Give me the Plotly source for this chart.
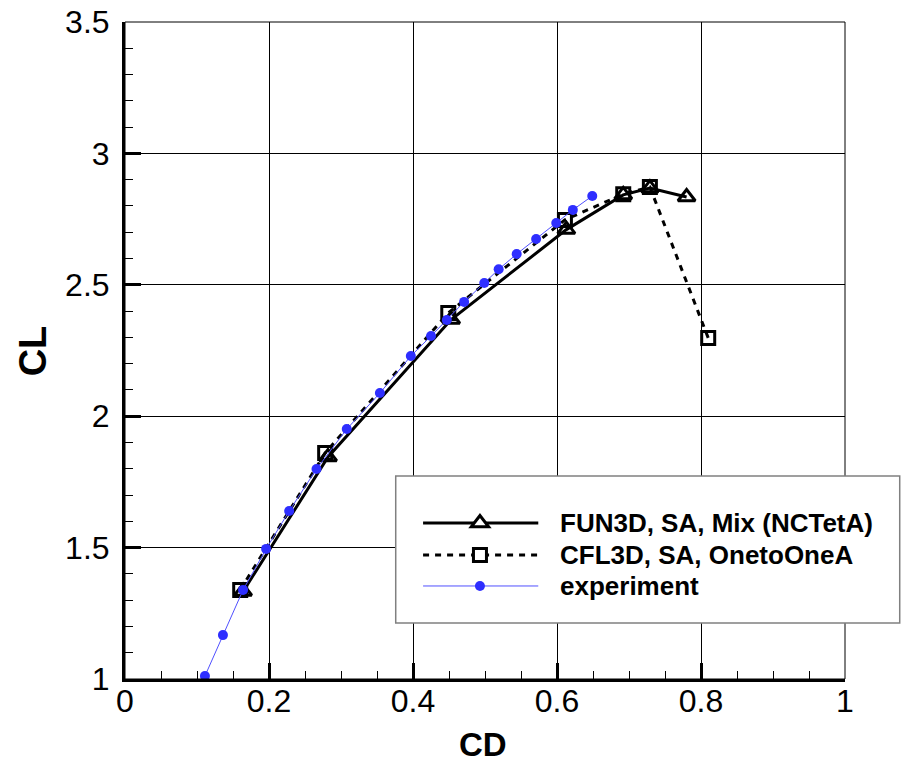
import plotly.graph_objects as go

# Drag polar: lift coefficient vs drag coefficient
fun3d_cd = [0.164, 0.282, 0.453, 0.613, 0.692, 0.729, 0.780]
fun3d_cl = [1.333, 1.845, 2.368, 2.710, 2.842, 2.868, 2.834]

cfl3d_cd = [0.160, 0.278, 0.449, 0.611, 0.692, 0.729, 0.810]
cfl3d_cl = [1.339, 1.860, 2.393, 2.747, 2.845, 2.872, 2.298]

exp_cd = [0.111, 0.136, 0.164, 0.196, 0.228, 0.266, 0.308, 0.354, 0.397, 0.425,
          0.447, 0.471, 0.499, 0.519, 0.544, 0.571, 0.599, 0.622, 0.649]
exp_cl = [1.011, 1.167, 1.339, 1.495, 1.639, 1.799, 1.951, 2.088, 2.229, 2.305,
          2.366, 2.435, 2.507, 2.559, 2.617, 2.674, 2.735, 2.785, 2.838]

names = ["FUN3D, SA, Mix (NCTetA)", "CFL3D, SA, OnetoOneA", "experiment"]

FONT = "Liberation Sans, Arial, sans-serif"
BLUE = "#2e2eff"
BLUE_LINE = "#5050ff"

fig = go.Figure()
fig.add_trace(go.Scatter(
    x=fun3d_cd, y=fun3d_cl, mode="lines+markers", name=names[0],
    line=dict(color="black", width=3),
    marker=dict(symbol="triangle-up-open", size=15, color="black",
                line=dict(color="black", width=3)),
    cliponaxis=False,
))
fig.add_trace(go.Scatter(
    x=cfl3d_cd, y=cfl3d_cl, mode="lines+markers", name=names[1],
    line=dict(color="black", width=3, dash="6px,6px"),
    marker=dict(symbol="square-open", size=13, color="black",
                line=dict(color="black", width=3)),
    cliponaxis=False,
))
fig.add_trace(go.Scatter(
    x=exp_cd, y=exp_cl, mode="lines+markers", name=names[2],
    line=dict(color=BLUE_LINE, width=1),
    marker=dict(symbol="circle", size=10, color=BLUE),
    cliponaxis=False,
))

# Frame (thin top/right border)
shapes = [dict(type="rect", xref="paper", yref="paper", x0=0, x1=1, y0=0, y1=1,
               line=dict(color="black", width=1), layer="above")]

# Legend box
lg_x0, lg_x1, lg_y0, lg_y1 = 0.376, 1.076, 0.0852, 0.309
shapes.append(dict(type="rect", xref="paper", yref="paper",
                   x0=lg_x0, x1=lg_x1, y0=lg_y0, y1=lg_y1,
                   line=dict(color="#808080", width=1.5), fillcolor="white",
                   layer="above"))
rows = [0.2374, 0.1887, 0.1416]
line_x0, line_x1, sym_x, text_x = 0.414, 0.574, 0.493, 0.601
shapes.append(dict(type="line", xref="paper", yref="paper", x0=line_x0, x1=line_x1,
                   y0=rows[0], y1=rows[0], line=dict(color="black", width=3), layer="above"))
shapes.append(dict(type="line", xref="paper", yref="paper", x0=line_x0, x1=line_x1,
                   y0=rows[1], y1=rows[1], line=dict(color="black", width=3, dash="6px,6px"),
                   layer="above"))
shapes.append(dict(type="line", xref="paper", yref="paper", x0=line_x0, x1=line_x1,
                   y0=rows[2], y1=rows[2], line=dict(color=BLUE_LINE, width=1), layer="above"))
# legend symbols
shapes.append(dict(type="path", xref="paper", yref="paper", xsizemode="pixel", ysizemode="pixel",
                   xanchor=sym_x, yanchor=rows[0],
                   path="M-8.66,-3.75 L8.66,-3.75 L0,7.5 Z",
                   line=dict(color="black", width=3), fillcolor="white", layer="above"))
shapes.append(dict(type="rect", xref="paper", yref="paper", xsizemode="pixel", ysizemode="pixel",
                   xanchor=sym_x, yanchor=rows[1], x0=-6.5, x1=6.5, y0=-6.5, y1=6.5,
                   line=dict(color="black", width=3), fillcolor="white", layer="above"))
shapes.append(dict(type="circle", xref="paper", yref="paper", xsizemode="pixel", ysizemode="pixel",
                   xanchor=sym_x, yanchor=rows[2], x0=-5, x1=5, y0=-5, y1=5,
                   line=dict(color=BLUE, width=0), fillcolor=BLUE, layer="above"))

annotations = []
for nm, ry in zip(names, rows):
    annotations.append(dict(text=f"<b>{nm}</b>", xref="paper", yref="paper", x=text_x, y=ry,
                            xanchor="left", yanchor="middle", showarrow=False,
                            font=dict(family=FONT, size=26, color="black")))
annotations.append(dict(text="<b>CD</b>", xref="paper", yref="paper", x=0.497, y=-0.099,
                        xanchor="center", yanchor="middle", showarrow=False,
                        font=dict(family=FONT, size=33, color="black")))
annotations.append(dict(text="<b>CL</b>", xref="paper", yref="paper", x=-0.128, y=0.5,
                        xanchor="center", yanchor="middle", showarrow=False, textangle=-90,
                        font=dict(family=FONT, size=38, color="black")))

axis_common = dict(
    showline=True, linecolor="black", linewidth=3,
    showgrid=True, gridcolor="black", gridwidth=1,
    ticks="inside", ticklen=16, tickwidth=3, tickcolor="black",
    zeroline=False, mirror=False, automargin=False,
    tickfont=dict(family=FONT, size=32, color="black"),
    tickformat="~g",
)

fig.update_layout(
    width=903, height=763,
    margin=dict(l=125, r=58, t=22, b=84),
    paper_bgcolor="white", plot_bgcolor="white",
    showlegend=False,
    xaxis=dict(range=[0, 1], dtick=0.2, tick0=0,
               minor=dict(dtick=0.05, ticks="inside", ticklen=8, tickwidth=1,
                          tickcolor="black", showgrid=False),
               ticklabelstandoff=-8, **axis_common),
    yaxis=dict(range=[1, 3.5], dtick=0.5, tick0=1,
               minor=dict(dtick=0.1, ticks="inside", ticklen=8, tickwidth=1,
                          tickcolor="black", showgrid=False),
               ticklabelstandoff=6, **axis_common),
    shapes=shapes,
    annotations=annotations,
)

fig.write_html("out.html")
